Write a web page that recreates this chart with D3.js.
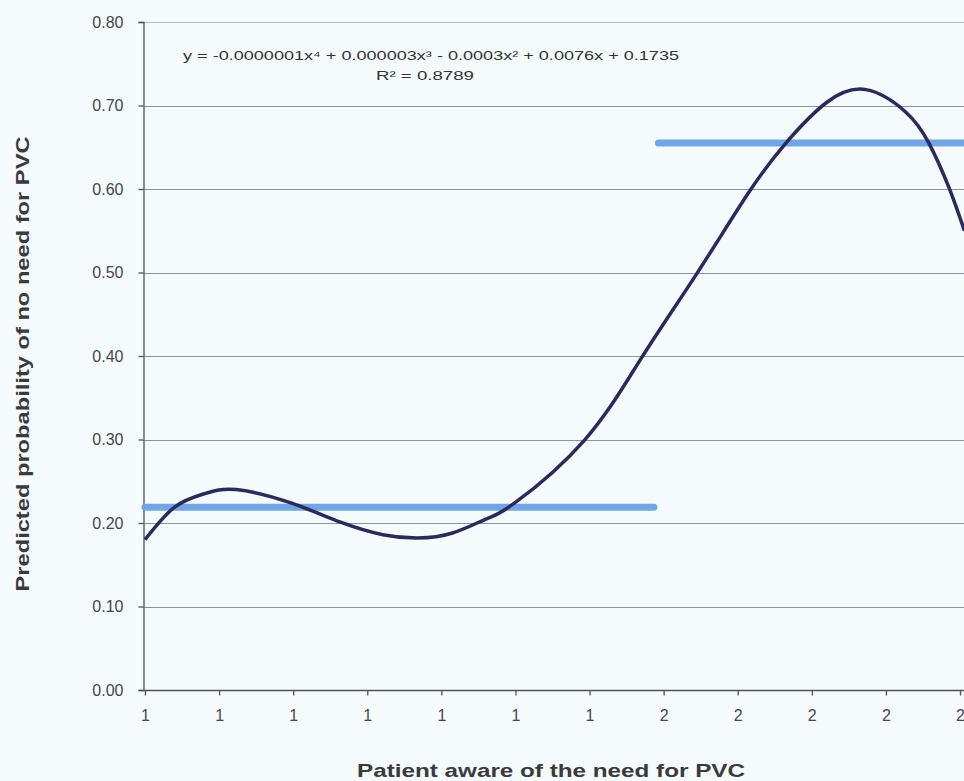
<!DOCTYPE html>
<html>
<head>
<meta charset="utf-8">
<script src="https://cdn.jsdelivr.net/npm/d3@7"></script>
<style>
  body { margin: 0; background: #f5fafc; }
  svg { display: block; }
  text { font-family: "Liberation Sans", Arial, sans-serif; }
</style>
</head>
<body>
<div id="chart"></div>
<script>
// category labels along the bottom (one per tick)
var xTickLabels = ["1", "1", "1", "1", "1", "1", "1", "2", "2", "2", "2", "2"];
var yTicks = [0, 0.1, 0.2, 0.3, 0.4, 0.5, 0.6, 0.7, 0.8];

// group means (light blue bars), extents in tick units
var groupLabels = ["1", "2"];
var groupStart = [0, 6.93];
var groupEnd = [6.87, 11.6];
var groupValue = [0.219, 0.655];

// trend curve (x in tick units)
var trendX = [0, 0.4, 0.8, 1.23, 1.97, 2.64, 3.21, 3.68, 4.15, 4.61, 4.99, 5.93, 6.71, 7.45, 8.15, 8.65, 9.19, 9.73, 10.27, 10.58, 10.85, 11.06];
var trendY = [0.180, 0.219, 0.235, 0.240, 0.224, 0.201, 0.186, 0.182, 0.188, 0.205, 0.224, 0.299, 0.399, 0.499, 0.596, 0.655, 0.703, 0.719, 0.692, 0.655, 0.602, 0.550];

var equation = "y = -0.0000001x\u2074 + 0.000003x\u00b3 - 0.0003x\u00b2 + 0.0076x + 0.1735";
var rSquared = "R\u00b2 = 0.8789";

var w = 964;
var h = 781;
var plotLeft = 143, plotTop = 22, plotBottom = 690;

var svg = d3.select("#chart")
  .append("svg")
  .attr("width", w)
  .attr("height", h);

var x = d3.scaleLinear().domain([0, 11]).range([145, 960]);
var y = d3.scaleLinear().domain([0, 0.8]).range([plotBottom, plotTop]);

// gridlines
svg.append("g")
  .selectAll("line")
  .data(yTicks.slice(1))
  .enter()
  .append("line")
  .attr("x1", plotLeft)
  .attr("x2", w)
  .attr("y1", function(d){ return Math.round(y(d)) + 0.5; })
  .attr("y2", function(d){ return Math.round(y(d)) + 0.5; })
  .attr("stroke", function(d){ return d == 0.8 ? "#b8bcc8" : "#8e91a4"; })
  .attr("stroke-width", 1);

// y axis
var yAxis = svg.append("g")
  .attr("transform", "translate(" + (plotLeft + 0.5) + ",0)")
  .call(d3.axisLeft(y).tickValues(yTicks).tickFormat(d3.format(".2f")).tickSize(5).tickPadding(15));
yAxis.selectAll("path, line").attr("stroke", "#505258").attr("stroke-width", 1.3);
yAxis.selectAll("text").attr("font-size", 16).attr("fill", "#46464c")
  .attr("font-family", "'Liberation Sans', Arial, sans-serif");

// x axis
var xAxis = svg.append("g")
  .attr("transform", "translate(0," + (plotBottom + 0.5) + ")")
  .call(d3.axisBottom(x).tickValues(d3.range(xTickLabels.length))
    .tickFormat(function(d){ return xTickLabels[d]; }).tickSize(5).tickPadding(14));
xAxis.select("path").attr("d", "M" + plotLeft + ",0H" + w);
xAxis.selectAll("path, line").attr("stroke", "#505258").attr("stroke-width", 1.3);
xAxis.selectAll("text").attr("font-size", 16).attr("fill", "#46464c")
  .attr("font-family", "'Liberation Sans', Arial, sans-serif");

// group mean bars
svg.append("g")
  .selectAll("line")
  .data(groupLabels)
  .enter()
  .append("line")
  .attr("x1", function(d, i){ return x(groupStart[i]); })
  .attr("x2", function(d, i){ return x(groupEnd[i]); })
  .attr("y1", function(d, i){ return y(groupValue[i]); })
  .attr("y2", function(d, i){ return y(groupValue[i]); })
  .attr("stroke", "#70a5e8")
  .attr("stroke-width", 7)
  .attr("stroke-linecap", "round");

// trend curve
var pts = trendX.map(function(d, i){ return [d, trendY[i]]; });
var line = d3.line()
  .x(function(d){ return x(d[0]); })
  .y(function(d){ return y(d[1]); })
  .curve(d3.curveNatural);

svg.append("path")
  .datum(pts)
  .attr("d", line)
  .attr("fill", "none")
  .attr("stroke", "#2a2b5c")
  .attr("stroke-width", 3.5)
  .attr("stroke-linejoin", "round");

// trendline label
svg.append("text")
  .attr("x", 431).attr("y", 60)
  .attr("text-anchor", "middle")
  .attr("font-size", 13)
  .attr("fill", "#333")
  .attr("textLength", 496)
  .attr("lengthAdjust", "spacingAndGlyphs")
  .text(equation);
svg.append("text")
  .attr("x", 425).attr("y", 80)
  .attr("text-anchor", "middle")
  .attr("font-size", 13)
  .attr("fill", "#333")
  .attr("textLength", 98)
  .attr("lengthAdjust", "spacingAndGlyphs")
  .text(rSquared);

// axis titles
svg.append("text")
  .attr("transform", "translate(29,364) rotate(-90)")
  .attr("text-anchor", "middle")
  .attr("font-size", 19)
  .attr("font-weight", "bold")
  .attr("fill", "#3a3a3e")
  .attr("textLength", 455)
  .attr("lengthAdjust", "spacingAndGlyphs")
  .text("Predicted probability of no need for PVC");

svg.append("text")
  .attr("x", 551).attr("y", 777)
  .attr("text-anchor", "middle")
  .attr("font-size", 19)
  .attr("font-weight", "bold")
  .attr("fill", "#3a3a3e")
  .attr("textLength", 388)
  .attr("lengthAdjust", "spacingAndGlyphs")
  .text("Patient aware of the need for PVC");
</script>
</body>
</html>
